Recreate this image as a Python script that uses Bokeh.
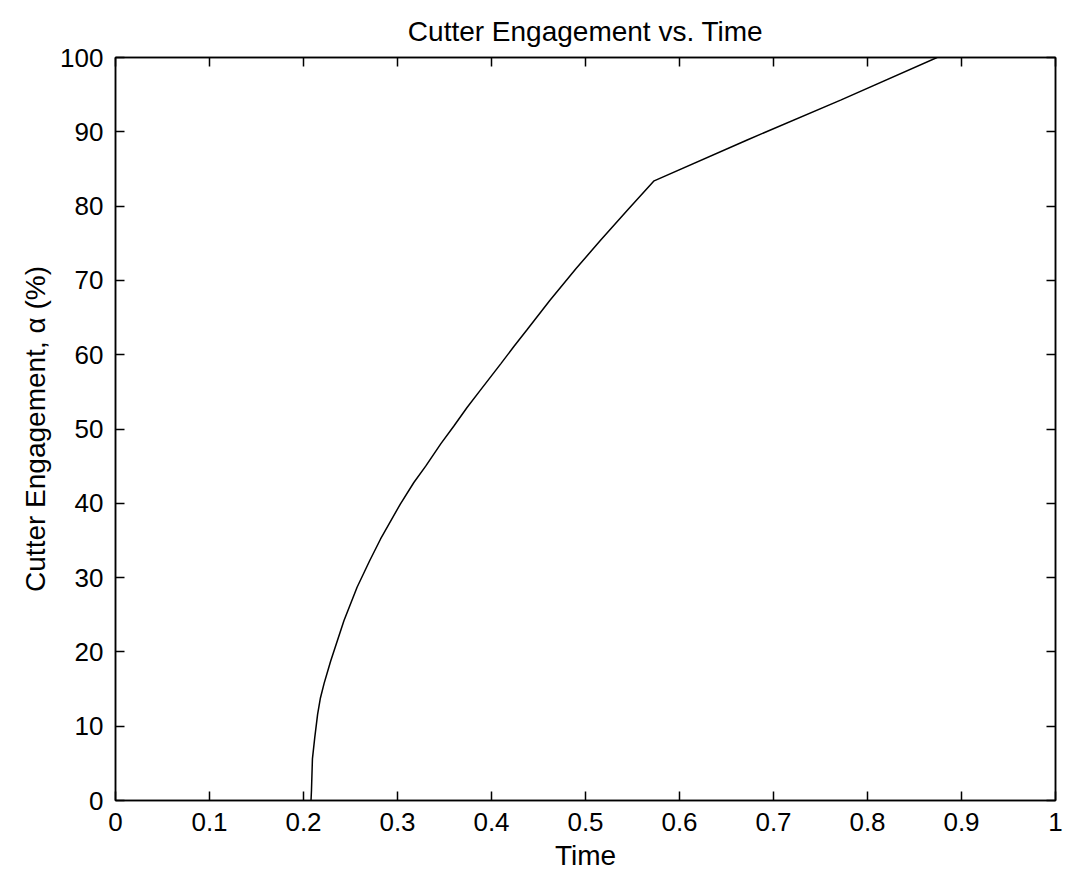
from bokeh.plotting import figure
from bokeh.models import Range1d, FixedTicker, LinearAxis
from bokeh.embed import file_html
from bokeh.resources import INLINE

# ---- data ----
time_vals = [0.208, 0.2085, 0.2095, 0.212, 0.215, 0.218, 0.222, 0.229, 0.236,
             0.243, 0.257, 0.2705, 0.282, 0.303, 0.3174, 0.330, 0.346, 0.360,
             0.374, 0.388, 0.410, 0.4238, 0.438, 0.462, 0.490, 0.516, 0.545,
             0.573, 0.672, 0.772, 0.874]
engagement = [0.0, 1.4, 5.6, 8.5, 11.6, 13.8, 15.8, 18.8, 21.5,
              24.2, 28.7, 32.3, 35.2, 39.9, 42.8, 45.0, 48.0, 50.4,
              52.9, 55.2, 58.8, 61.1, 63.4, 67.3, 71.6, 75.4, 79.5,
              83.4, 88.9, 94.3, 100.0]

x_ticks = [0, 0.1, 0.2, 0.3, 0.4, 0.5, 0.6, 0.7, 0.8, 0.9, 1]
x_tick_labels = ["0", "0.1", "0.2", "0.3", "0.4", "0.5", "0.6", "0.7", "0.8", "0.9", "1"]
y_ticks = [0, 10, 20, 30, 40, 50, 60, 70, 80, 90, 100]
y_tick_labels = ["0", "10", "20", "30", "40", "50", "60", "70", "80", "90", "100"]

title_text = "Cutter Engagement vs. Time"
x_label = "Time"
y_label = "Cutter Engagement, \u03b1 (%)"

FONT = "Liberation Sans"
TICK_SIZE = "26px"
LABEL_SIZE = "28px"

p = figure(width=1065, height=878, output_backend="svg", toolbar_location=None,
           x_range=Range1d(0, 1), y_range=Range1d(0, 100),
           min_border_left=115, min_border_right=10,
           min_border_top=57, min_border_bottom=78,
           title=title_text)

p.background_fill_color = "white"
p.border_fill_color = "white"
p.outline_line_color = "black"
p.outline_line_width = 1.5
p.xgrid.visible = False
p.ygrid.visible = False

p.title.align = "center"
p.title.text_font = FONT
p.title.text_font_size = LABEL_SIZE
p.title.text_font_style = "normal"
p.title.text_color = "black"
p.title.standoff = 22

p.line(time_vals, engagement, line_color="black", line_width=1.5)

def style_axis(ax, ticks, labels, show_labels=True):
    ax.ticker = FixedTicker(ticks=ticks)
    ax.major_label_overrides = {t: l for t, l in zip(ticks, labels)}
    ax.axis_line_color = "black"
    ax.axis_line_width = 1.5
    ax.major_tick_line_color = "black"
    ax.major_tick_line_width = 1.5
    ax.major_tick_in = 9
    ax.major_tick_out = 0
    ax.minor_tick_line_color = None
    ax.major_label_text_font = FONT
    ax.major_label_text_color = "black"
    if show_labels:
        ax.major_label_text_font_size = TICK_SIZE
        ax.major_label_standoff = 12
    else:
        ax.major_label_text_font_size = "0px"
        ax.major_label_standoff = 0
        ax.major_label_text_color = None

xa = p.xaxis[0]
ya = p.yaxis[0]
style_axis(xa, x_ticks, x_tick_labels)
style_axis(ya, y_ticks, y_tick_labels)
ya.major_label_orientation = "horizontal"

xa.axis_label = x_label
ya.axis_label = y_label
for ax in (xa, ya):
    ax.axis_label_text_font = FONT
    ax.axis_label_text_font_size = LABEL_SIZE
    ax.axis_label_text_font_style = "normal"
    ax.axis_label_text_color = "black"
xa.axis_label_standoff = 6
ya.axis_label_standoff = 6

top_ax = LinearAxis()
right_ax = LinearAxis()
style_axis(top_ax, x_ticks, x_tick_labels, show_labels=False)
style_axis(right_ax, y_ticks, y_tick_labels, show_labels=False)
p.add_layout(top_ax, "above")
p.add_layout(right_ax, "right")

open("out.html", "w").write(file_html(p, INLINE))
